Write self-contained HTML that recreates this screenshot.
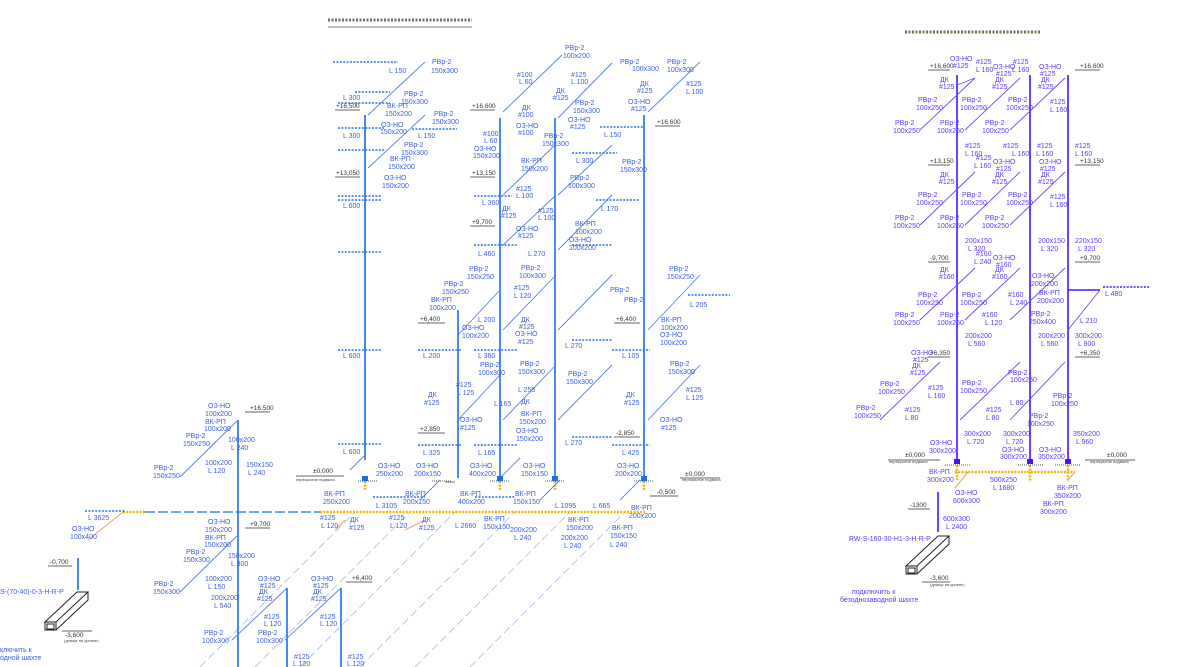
<!DOCTYPE html>
<html><head><meta charset="utf-8"><style>
html,body{margin:0;padding:0;background:#fff;}
svg{display:block;}
.t{font-family:"Liberation Sans",sans-serif;font-size:7px;fill:#3a5ee0;}
.r{font-family:"Liberation Sans",sans-serif;font-size:7px;fill:#5a3cff;}
.k{font-family:"Liberation Sans",sans-serif;font-size:6.5px;fill:#333;}
.s{font-family:"Liberation Sans",sans-serif;font-size:4px;fill:#444;}
</style></head><body>
<svg width="1184" height="667" viewBox="0 0 1184 667" xmlns="http://www.w3.org/2000/svg">
<!-- titles -->
<line x1="328" y1="20" x2="472" y2="20" stroke="#7a6a80" stroke-width="3" stroke-dasharray="2,1.5"/>
<line x1="328" y1="27" x2="472" y2="27" stroke="#555" stroke-width="0.8"/>
<line x1="905" y1="32" x2="1040" y2="32" stroke="#7a6a50" stroke-width="3" stroke-dasharray="2,1.5"/>

<!-- gray long dashed diagonals -->
<g stroke="#9ab0e0" stroke-width="0.7" stroke-dasharray="8,4" fill="none">
<line x1="200" y1="667" x2="355" y2="512"/>
<line x1="255" y1="667" x2="410" y2="512"/>
<line x1="300" y1="667" x2="455" y2="512"/>
<line x1="360" y1="667" x2="515" y2="512"/>
<line x1="415" y1="667" x2="570" y2="512"/>
<line x1="470" y1="667" x2="625" y2="512"/>
</g>

<!-- LEFT main blue verticals -->
<g stroke="#1a6fe6" stroke-width="1.6" fill="none">
<line x1="365" y1="115" x2="365" y2="460"/>
<line x1="500" y1="118" x2="500" y2="478"/>
<line x1="555" y1="118" x2="555" y2="478"/>
<line x1="644" y1="115" x2="644" y2="478"/>
<line x1="238" y1="420" x2="238" y2="667"/>
<line x1="287" y1="588" x2="287" y2="667"/>
<line x1="341" y1="588" x2="341" y2="667"/>
<line x1="458" y1="310" x2="458" y2="478"/>
<line x1="78" y1="558" x2="78" y2="590"/>
</g>
<g stroke="#1a6fe6" stroke-width="1.3" fill="none" stroke-dasharray="10,3">
<line x1="145" y1="512" x2="320" y2="512"/>
</g>
<!-- orange dotted -->
<g stroke="#f2b400" stroke-width="2.5" stroke-dasharray="2,1.3" fill="none">
<line x1="320" y1="512" x2="645" y2="512"/>
<line x1="123" y1="512" x2="145" y2="512"/>
<line x1="365" y1="478" x2="365" y2="490"/>
<line x1="500" y1="478" x2="500" y2="490"/>
<line x1="555" y1="478" x2="555" y2="490"/>
<line x1="644" y1="478" x2="644" y2="490"/>
<line x1="955" y1="472" x2="1075" y2="472"/>
<line x1="957" y1="462" x2="957" y2="480"/>
<line x1="1030" y1="462" x2="1030" y2="482"/>
<line x1="1068" y1="462" x2="1068" y2="482"/>
</g>
<g stroke="#f0a060" stroke-width="1" fill="none">
<line x1="123" y1="512" x2="88" y2="540"/>
<line x1="345" y1="520" x2="335" y2="530"/>
<line x1="425" y1="520" x2="405" y2="530"/>
<line x1="968" y1="472" x2="955" y2="488"/>
<line x1="1075" y1="472" x2="1068" y2="480"/>
</g>

<!-- blue diagonals (45deg) left -->
<g stroke="#5080f0" stroke-width="0.9" fill="none">
<line x1="368" y1="115" x2="425" y2="62"/>
<line x1="368" y1="168" x2="425" y2="115"/>
<line x1="503" y1="112" x2="562" y2="55"/>
<line x1="558" y1="118" x2="612" y2="63"/>
<line x1="648" y1="112" x2="700" y2="62"/>
<line x1="503" y1="195" x2="555" y2="145"/>
<line x1="558" y1="195" x2="612" y2="145"/>
<line x1="503" y1="245" x2="556" y2="195"/>
<line x1="558" y1="250" x2="612" y2="195"/>
<line x1="458" y1="335" x2="500" y2="290"/>
<line x1="503" y1="330" x2="556" y2="275"/>
<line x1="558" y1="330" x2="612" y2="275"/>
<line x1="648" y1="330" x2="700" y2="275"/>
<line x1="458" y1="420" x2="500" y2="375"/>
<line x1="503" y1="420" x2="556" y2="365"/>
<line x1="558" y1="420" x2="612" y2="365"/>
<line x1="648" y1="420" x2="700" y2="365"/>
<line x1="180" y1="477" x2="238" y2="420"/>
<line x1="180" y1="592" x2="238" y2="535"/>
<line x1="232" y1="640" x2="287" y2="588"/>
<line x1="285" y1="640" x2="341" y2="588"/>
<line x1="238" y1="300" x2="238" y2="300"/>
<line x1="350" y1="470" x2="365" y2="455"/>
<line x1="420" y1="500" x2="440" y2="480"/>
<line x1="500" y1="478" x2="520" y2="458"/>
<line x1="540" y1="500" x2="560" y2="480"/>
<line x1="620" y1="500" x2="640" y2="480"/>
</g>
<!-- dotted horizontals left -->
<g stroke="#2a70e8" stroke-width="1.6" stroke-dasharray="2,1.4" fill="none">
<line x1="333" y1="62" x2="398" y2="62"/>
<line x1="355" y1="92" x2="390" y2="92"/>
<line x1="338" y1="103" x2="390" y2="103"/>
<line x1="338" y1="128" x2="384" y2="128"/>
<line x1="338" y1="150" x2="385" y2="150"/>
<line x1="412" y1="129" x2="457" y2="129"/>
<line x1="338" y1="196" x2="382" y2="196"/>
<line x1="338" y1="200" x2="382" y2="200"/>
<line x1="338" y1="252" x2="382" y2="252"/>
<line x1="338" y1="350" x2="382" y2="350"/>
<line x1="338" y1="444" x2="382" y2="444"/>
<line x1="474" y1="196" x2="512" y2="196"/>
<line x1="474" y1="245" x2="518" y2="245"/>
<line x1="572" y1="245" x2="612" y2="245"/>
<line x1="600" y1="127" x2="643" y2="127"/>
<line x1="572" y1="153" x2="617" y2="153"/>
<line x1="596" y1="200" x2="640" y2="200"/>
<line x1="474" y1="350" x2="518" y2="350"/>
<line x1="418" y1="350" x2="462" y2="350"/>
<line x1="418" y1="445" x2="462" y2="445"/>
<line x1="474" y1="445" x2="518" y2="445"/>
<line x1="572" y1="340" x2="612" y2="340"/>
<line x1="572" y1="437" x2="612" y2="437"/>
<line x1="612" y1="350" x2="650" y2="350"/>
<line x1="612" y1="445" x2="650" y2="445"/>
<line x1="688" y1="295" x2="730" y2="295"/>
<line x1="85" y1="511" x2="125" y2="511"/>
<line x1="373" y1="497" x2="425" y2="497"/>
<line x1="475" y1="497" x2="515" y2="497"/>
</g>
<!-- RIGHT verticals -->
<g stroke="#4a10ff" stroke-width="1.6" fill="none">
<line x1="957" y1="75" x2="957" y2="462"/>
<line x1="1030" y1="75" x2="1030" y2="462"/>
<line x1="1068" y1="75" x2="1068" y2="462"/>
<line x1="938" y1="492" x2="938" y2="532"/>
<line x1="1068" y1="290" x2="1100" y2="290"/>
</g>
<g stroke="#6a4aff" stroke-width="0.9" fill="none">
<line x1="920" y1="130" x2="975" y2="78"/>
<line x1="965" y1="130" x2="1020" y2="78"/>
<line x1="1010" y1="130" x2="1065" y2="78"/>
<line x1="920" y1="225" x2="975" y2="172"/>
<line x1="965" y1="225" x2="1020" y2="172"/>
<line x1="1010" y1="225" x2="1065" y2="172"/>
<line x1="920" y1="320" x2="975" y2="268"/>
<line x1="965" y1="320" x2="1020" y2="268"/>
<line x1="1010" y1="320" x2="1065" y2="268"/>
<line x1="880" y1="420" x2="940" y2="362"/>
<line x1="960" y1="420" x2="1020" y2="362"/>
<line x1="1010" y1="420" x2="1065" y2="362"/>
<line x1="1068" y1="330" x2="1100" y2="290"/>
<line x1="957" y1="85" x2="975" y2="78"/>
<line x1="1030" y1="78" x2="1030" y2="78"/>
</g>
<g stroke="#4a10ff" stroke-width="1.6" stroke-dasharray="2,1.4" fill="none">
<line x1="1103" y1="287" x2="1150" y2="287"/>
</g>

<!-- level marks (black) -->
<g stroke="#333" stroke-width="0.7" fill="none">
<line x1="335" y1="110" x2="360" y2="110"/><line x1="335" y1="177" x2="360" y2="177"/>
<line x1="470" y1="110" x2="495" y2="110"/><line x1="470" y1="177" x2="495" y2="177"/>
<line x1="470" y1="226" x2="495" y2="226"/><line x1="418" y1="323" x2="445" y2="323"/>
<line x1="418" y1="433" x2="445" y2="433"/><line x1="655" y1="126" x2="680" y2="126"/>
<line x1="614" y1="323" x2="640" y2="323"/><line x1="614" y1="437" x2="640" y2="437"/>
<line x1="245" y1="412" x2="270" y2="412"/><line x1="245" y1="528" x2="270" y2="528"/>
<line x1="346" y1="582" x2="372" y2="582"/><line x1="48" y1="566" x2="72" y2="566"/>
<line x1="62" y1="631" x2="92" y2="631"/><line x1="296" y1="476" x2="344" y2="476"/>
<line x1="680" y1="478" x2="720" y2="478"/><line x1="650" y1="496" x2="678" y2="496"/>
<line x1="928" y1="70" x2="950" y2="70"/><line x1="1075" y1="70" x2="1100" y2="70"/>
<line x1="928" y1="165" x2="950" y2="165"/><line x1="1075" y1="165" x2="1100" y2="165"/>
<line x1="928" y1="262" x2="950" y2="262"/><line x1="1075" y1="262" x2="1100" y2="262"/>
<line x1="928" y1="357" x2="950" y2="357"/><line x1="1075" y1="357" x2="1100" y2="357"/>
<line x1="888" y1="460" x2="940" y2="460"/><line x1="1085" y1="460" x2="1135" y2="460"/>
<line x1="908" y1="509" x2="930" y2="509"/><line x1="922" y1="582" x2="950" y2="582"/>
<line x1="445" y1="482" x2="455" y2="482"/>
</g>
<!-- gray hatch floor -->
<g stroke="#777" stroke-width="1.2" stroke-dasharray="1,1">
<line x1="358" y1="481" x2="378" y2="481"/><line x1="432" y1="481" x2="452" y2="481"/>
<line x1="490" y1="481" x2="510" y2="481"/><line x1="545" y1="481" x2="565" y2="481"/>
<line x1="634" y1="481" x2="654" y2="481"/>
<line x1="945" y1="465" x2="970" y2="465"/><line x1="1018" y1="465" x2="1043" y2="465"/>
<line x1="1055" y1="465" x2="1080" y2="465"/>
</g>
<!-- duct boxes -->
<g stroke="#222" stroke-width="1" fill="none">
<path d="M45 622 L77 592 L88 592 L56 622 Z M45 622 L45 630 L56 630 L56 622 M56 630 L88 600 L88 592"/>
<rect x="47" y="624" width="7" height="5"/>
<path d="M906 566 L938 536 L949 536 L917 566 Z M906 566 L906 574 L917 574 L917 566 M917 574 L949 544 L949 536"/>
<rect x="908" y="568" width="7" height="5"/>
</g>
<g fill="#1a6fe6"><rect x="362" y="476" width="6" height="5"/><rect x="497" y="476" width="6" height="5"/><rect x="552" y="476" width="6" height="5"/><rect x="641" y="476" width="6" height="5"/></g>
<g fill="#4a10ff"><rect x="954" y="459" width="6" height="5"/><rect x="1027" y="459" width="6" height="5"/><rect x="1065" y="459" width="6" height="5"/></g>

<!-- LEFT labels -->
<g class="t">
<text x="432" y="64">РВр-2</text><text x="431" y="73">150х300</text>
<text x="389" y="73">L 150</text>
<text x="404" y="96">РВр-2</text><text x="401" y="104">150х300</text>
<text x="387" y="108">ВК-РП</text><text x="385" y="116">150х200</text>
<text x="381" y="127">ОЗ-НО</text><text x="380" y="134">150х200</text>
<text x="434" y="116">РВр-2</text><text x="432" y="124">150х300</text>
<text x="418" y="138">L 150</text><text x="343" y="100">L 300</text><text x="343" y="138">L 300</text>
<text x="404" y="147">РВр-2</text><text x="401" y="155">150х300</text>
<text x="390" y="161">ВК-РП</text><text x="388" y="169">150х200</text>
<text x="384" y="180">ОЗ-НО</text><text x="382" y="188">150х200</text>
<text x="343" y="208">L 600</text><text x="343" y="358">L 600</text><text x="343" y="454">L 600</text>
<text x="565" y="50">РВр-2</text><text x="563" y="58">100х200</text>
<text x="517" y="77">#100</text><text x="519" y="84">L 60</text>
<text x="522" y="110">ДК</text><text x="518" y="117">#100</text>
<text x="516" y="128">ОЗ-НО</text><text x="518" y="135">#100</text>
<text x="483" y="136">#100</text><text x="484" y="143">L 60</text>
<text x="474" y="151">ОЗ-НО</text><text x="473" y="158">150х200</text>
<text x="521" y="163">ВК-РП</text><text x="521" y="171">150х200</text>
<text x="571" y="77">#125</text><text x="571" y="84">L 100</text>
<text x="556" y="93">ДК</text><text x="553" y="100">#125</text>
<text x="575" y="105">РВр-2</text><text x="573" y="113">150х300</text>
<text x="568" y="122">ОЗ-НО</text><text x="570" y="129">#125</text>
<text x="544" y="138">РВр-2</text><text x="542" y="146">150х300</text>
<text x="604" y="137">L 150</text><text x="576" y="163">L 300</text>
<text x="570" y="180">РВр-2</text><text x="568" y="188">100х300</text>
<text x="622" y="164">РВр-2</text><text x="620" y="172">150х300</text>
<text x="601" y="211">L 170</text><text x="620" y="64">РВр-2</text><text x="667" y="64">РВр-2</text><text x="667" y="72">100х300</text>
<text x="632" y="71">100х300</text>
<text x="640" y="86">ДК</text><text x="637" y="93">#125</text>
<text x="628" y="104">ОЗ-НО</text><text x="631" y="111">#125</text>
<text x="686" y="86">#125</text><text x="686" y="94">L 100</text>
<text x="516" y="191">#125</text><text x="516" y="198">L 100</text>
<text x="538" y="213">#125</text><text x="538" y="220">L 100</text>
<text x="502" y="211">ДК</text><text x="501" y="218">#125</text>
<text x="516" y="231">ОЗ-НО</text><text x="518" y="238">#125</text>
<text x="575" y="226">ВК-РП</text><text x="575" y="234">100х200</text>
<text x="569" y="242">ОЗ-НО</text><text x="569" y="250">100х200</text>
<text x="478" y="256">L 460</text><text x="528" y="256">L 270</text><text x="482" y="205">L 360</text>
<text x="469" y="271">РВр-2</text><text x="467" y="279">150х250</text>
<text x="521" y="270">РВр-2</text><text x="519" y="278">100х300</text>
<text x="444" y="286">РВр-2</text><text x="442" y="294">150х250</text>
<text x="431" y="302">ВК-РП</text><text x="429" y="310">100х200</text>
<text x="514" y="290">#125</text><text x="514" y="298">L 120</text>
<text x="669" y="271">РВр-2</text><text x="667" y="279">150х250</text>
<text x="624" y="302">РВр-2</text><text x="610" y="292">РВр-2</text>
<text x="661" y="322">ВК-РП</text><text x="661" y="330">100х200</text>
<text x="660" y="337">ОЗ-НО</text><text x="660" y="345">100х200</text>
<text x="690" y="307">L 205</text>
<text x="478" y="322">L 200</text><text x="521" y="322">ДК</text><text x="519" y="329">#125</text>
<text x="515" y="336">ОЗ-НО</text><text x="518" y="344">#125</text>
<text x="462" y="330">ОЗ-НО</text><text x="462" y="338">100х200</text>
<text x="423" y="358">L 200</text><text x="478" y="358">L 360</text><text x="565" y="348">L 270</text>
<text x="622" y="358">L 105</text><text x="480" y="367">РВр-2</text><text x="478" y="375">100х300</text>
<text x="520" y="366">РВр-2</text><text x="518" y="374">150х300</text>
<text x="568" y="376">РВр-2</text><text x="566" y="384">150х300</text>
<text x="670" y="366">РВр-2</text><text x="668" y="374">150х300</text>
<text x="456" y="387">#125</text><text x="457" y="395">L 125</text>
<text x="428" y="397">ДК</text><text x="424" y="405">#125</text>
<text x="518" y="392">L 255</text><text x="686" y="392">#125</text><text x="686" y="400">L 125</text>
<text x="626" y="397">ДК</text><text x="624" y="405">#125</text>
<text x="494" y="406">L 165</text><text x="521" y="404">ДК</text>
<text x="521" y="416">ВК-РП</text><text x="519" y="424">150х200</text>
<text x="516" y="433">ОЗ-НО</text><text x="516" y="441">150х200</text>
<text x="460" y="422">ОЗ-НО</text><text x="460" y="430">#125</text>
<text x="660" y="422">ОЗ-НО</text><text x="661" y="430">#125</text>
<text x="565" y="445">L 270</text><text x="423" y="455">L 325</text><text x="478" y="455">L 165</text><text x="622" y="455">L 425</text>
<text x="378" y="468">ОЗ-НО</text><text x="376" y="476">250х200</text>
<text x="416" y="468">ОЗ-НО</text><text x="414" y="476">200х150</text>
<text x="470" y="468">ОЗ-НО</text><text x="469" y="476">400х200</text>
<text x="523" y="468">ОЗ-НО</text><text x="521" y="476">150х150</text>
<text x="617" y="468">ОЗ-НО</text><text x="615" y="476">200х200</text>
<text x="324" y="496">ВК-РП</text><text x="323" y="504">250х200</text>
<text x="405" y="496">ВК-РП</text><text x="403" y="504">200х150</text>
<text x="460" y="496">ВК-РП</text><text x="458" y="504">400х200</text>
<text x="515" y="496">ВК-РП</text><text x="513" y="504">150х150</text>
<text x="631" y="510">ВК-РП</text><text x="629" y="518">200х200</text>
<text x="376" y="508">L 3105</text><text x="555" y="508">L 1095</text><text x="593" y="508">L 665</text>
<text x="320" y="520">#125</text><text x="321" y="528">L 120</text><text x="350" y="522">ДК</text><text x="349" y="530">#125</text>
<text x="389" y="520">#125</text><text x="390" y="528">L 120</text><text x="422" y="522">ДК</text><text x="419" y="530">#125</text>
<text x="455" y="528">L 2660</text><text x="484" y="521">ВК-РП</text><text x="483" y="529">150х150</text>
<text x="510" y="532">200х200</text><text x="514" y="540">L 240</text>
<text x="568" y="522">ВК-РП</text><text x="566" y="530">150х200</text>
<text x="561" y="540">200х200</text><text x="564" y="548">L 240</text>
<text x="612" y="530">ВК-РП</text><text x="610" y="538">150х150</text>
<text x="610" y="547">L 240</text><text x="613" y="540"></text>
<text x="208" y="408">ОЗ-НО</text><text x="205" y="416">100х200</text>
<text x="205" y="424">ВК-РП</text><text x="204" y="431">100х200</text>
<text x="186" y="438">РВр-2</text><text x="183" y="446">150х250</text>
<text x="228" y="442">100х200</text><text x="231" y="450">L 240</text>
<text x="205" y="465">100х200</text><text x="208" y="473">L 120</text>
<text x="154" y="470">РВр-2</text><text x="153" y="478">150х250</text>
<text x="246" y="467">150х150</text><text x="248" y="475">L 240</text>
<text x="88" y="520">L 3625</text>
<text x="72" y="531">ОЗ-НО</text><text x="70" y="539">100х400</text>
<text x="208" y="524">ОЗ-НО</text><text x="205" y="532">150х200</text>
<text x="205" y="540">ВК-РП</text><text x="204" y="547">150х200</text>
<text x="186" y="554">РВр-2</text><text x="183" y="562">150х300</text>
<text x="228" y="558">150х200</text><text x="231" y="566">L 300</text>
<text x="205" y="581">100х200</text><text x="208" y="589">L 150</text>
<text x="154" y="586">РВр-2</text><text x="153" y="594">150х300</text>
<text x="211" y="600">200х200</text><text x="214" y="608">L 540</text>
<text x="258" y="581">ОЗ-НО</text><text x="260" y="588">#125</text>
<text x="259" y="594">ДК</text><text x="257" y="601">#125</text>
<text x="311" y="581">ОЗ-НО</text><text x="313" y="588">#125</text>
<text x="313" y="594">ДК</text><text x="311" y="601">#125</text>
<text x="264" y="619">#125</text><text x="264" y="626">L 120</text>
<text x="320" y="619">#125</text><text x="320" y="626">L 120</text>
<text x="204" y="635">РВр-2</text><text x="202" y="643">100х300</text>
<text x="258" y="635">РВр-2</text><text x="256" y="643">100х300</text>
<text x="294" y="659">#125</text><text x="293" y="666">L 120</text>
<text x="348" y="659">#125</text><text x="347" y="666">L 120</text>
<text x="0" y="594">S-(70-40)-0-3-Н-R-P</text>
<text x="0" y="652">ключить к</text><text x="0" y="660">одной шахте</text>
</g>
<g class="k">
<text x="336" y="108">+16,500</text><text x="336" y="175">+13,050</text>
<text x="472" y="108">+16,600</text><text x="472" y="175">+13,150</text><text x="472" y="224">+9,700</text>
<text x="420" y="321">+6,400</text><text x="420" y="431">+2,850</text>
<text x="657" y="124">+16,600</text><text x="616" y="321">+6,400</text><text x="616" y="435">-2,850</text>
<text x="250" y="410">+16,500</text><text x="250" y="526">+9,700</text><text x="352" y="580">+6,400</text>
<text x="50" y="564">-0,700</text><text x="65" y="637">-3,600</text>
<text x="313" y="473">±0,000</text><text x="685" y="476">±0,000</text><text x="657" y="494">-0,500</text>
<text x="930" y="68">+16,600</text><text x="1080" y="68">+16,600</text>
<text x="930" y="163">+13,150</text><text x="1080" y="163">+13,150</text>
<text x="930" y="260">-9,700</text><text x="1080" y="260">+9,700</text>
<text x="930" y="355">+6,350</text><text x="1080" y="355">+6,350</text>
<text x="905" y="457">±0,000</text><text x="1107" y="457">±0,000</text>
<text x="910" y="507">-1300</text><text x="930" y="580">-3,600</text>
</g>
<g class="s">
<text x="296" y="481">перекрытие подвала</text><text x="682" y="481">перекрытие подвала</text>
<text x="889" y="463">перекрытие подвала</text><text x="1090" y="463">перекрытие подвала</text>
<text x="64" y="642">(днище на уровне)</text><text x="930" y="586">(днище на уровне)</text>
</g>

<!-- RIGHT labels -->
<g class="r">
<text x="950" y="61">ОЗ-НО</text><text x="953" y="68">#125</text>
<text x="976" y="64">#125</text><text x="976" y="72">L 160</text>
<text x="993" y="69">ОЗ-НО</text><text x="996" y="76">#125</text>
<text x="1013" y="64">#125</text><text x="1012" y="72">L 160</text>
<text x="1039" y="69">ОЗ-НО</text><text x="1040" y="76">#125</text>
<text x="940" y="82">ДК</text><text x="939" y="89">#125</text>
<text x="995" y="82">ДК</text><text x="992" y="89">#125</text>
<text x="1041" y="82">ДК</text><text x="1038" y="89">#125</text>
<text x="1050" y="104">#125</text><text x="1050" y="112">L 160</text>
<text x="918" y="102">РВр-2</text><text x="916" y="110">100х250</text>
<text x="962" y="102">РВр-2</text><text x="960" y="110">100х250</text>
<text x="1008" y="102">РВр-2</text><text x="1006" y="110">100х250</text>
<text x="895" y="125">РВр-2</text><text x="893" y="133">100х250</text>
<text x="940" y="125">РВр-2</text><text x="937" y="133">100х250</text>
<text x="985" y="125">РВр-2</text><text x="982" y="133">100х250</text>
<text x="965" y="148">#125</text><text x="965" y="156">L 160</text>
<text x="1003" y="148">#125</text><text x="1012" y="156">L 160</text>
<text x="1037" y="148">#125</text><text x="1036" y="156">L 160</text>
<text x="1075" y="148">#125</text><text x="1075" y="156">L 160</text>
<text x="976" y="160">#125</text><text x="974" y="168">L 160</text>
<text x="993" y="164">ОЗ-НО</text><text x="996" y="171">#125</text>
<text x="1039" y="164">ОЗ-НО</text><text x="1040" y="171">#125</text>
<text x="940" y="177">ДК</text><text x="939" y="184">#125</text>
<text x="995" y="177">ДК</text><text x="992" y="184">#125</text>
<text x="1041" y="177">ДК</text><text x="1038" y="184">#125</text>
<text x="1050" y="199">#125</text><text x="1050" y="207">L 160</text>
<text x="918" y="197">РВр-2</text><text x="916" y="205">100х250</text>
<text x="962" y="197">РВр-2</text><text x="960" y="205">100х250</text>
<text x="1008" y="197">РВр-2</text><text x="1006" y="205">100х250</text>
<text x="895" y="220">РВр-2</text><text x="893" y="228">100х250</text>
<text x="940" y="220">РВр-2</text><text x="937" y="228">100х250</text>
<text x="985" y="220">РВр-2</text><text x="982" y="228">100х250</text>
<text x="965" y="243">200х150</text><text x="968" y="251">L 320</text>
<text x="1038" y="243">200х150</text><text x="1041" y="251">L 320</text>
<text x="1075" y="243">220х150</text><text x="1078" y="251">L 320</text>
<text x="976" y="256">#160</text><text x="974" y="264">L 240</text>
<text x="993" y="260">ОЗ-НО</text><text x="996" y="267">#160</text>
<text x="1032" y="278">ОЗ-НО</text><text x="1031" y="286">200х200</text>
<text x="940" y="272">ДК</text><text x="939" y="279">#160</text>
<text x="995" y="272">ДК</text><text x="992" y="279">#160</text>
<text x="1039" y="295">ВК-РП</text><text x="1037" y="303">200х200</text>
<text x="1105" y="296">L 480</text>
<text x="918" y="297">РВр-2</text><text x="916" y="305">100х250</text>
<text x="962" y="297">РВр-2</text><text x="960" y="305">100х250</text>
<text x="1008" y="297">#160</text><text x="1010" y="305">L 240</text>
<text x="895" y="317">РВр-2</text><text x="893" y="325">100х250</text>
<text x="940" y="317">РВр-2</text><text x="937" y="325">100х250</text>
<text x="982" y="317">#160</text><text x="985" y="325">L 120</text>
<text x="1031" y="316">РВр-2</text><text x="1029" y="324">250х400</text>
<text x="1080" y="323">L 210</text>
<text x="965" y="338">200х200</text><text x="968" y="346">L 560</text>
<text x="1038" y="338">200х200</text><text x="1041" y="346">L 560</text>
<text x="1075" y="338">300х200</text><text x="1078" y="346">L 800</text>
<text x="911" y="355">ОЗ-НО</text><text x="913" y="362">#125</text>
<text x="912" y="368">ДК</text><text x="910" y="375">#125</text>
<text x="880" y="386">РВр-2</text><text x="878" y="394">100х250</text>
<text x="928" y="390">#125</text><text x="928" y="398">L 160</text>
<text x="856" y="410">РВр-2</text><text x="854" y="418">100х250</text>
<text x="905" y="412">#125</text><text x="905" y="420">L 80</text>
<text x="962" y="385">РВр-2</text><text x="960" y="393">100х250</text>
<text x="986" y="412">#125</text><text x="986" y="420">L 80</text>
<text x="1008" y="375">РВр-2</text><text x="1010" y="382">100х250</text>
<text x="1010" y="405">L 80</text><text x="1029" y="418">РВр-2</text><text x="1027" y="426">100х250</text>
<text x="1053" y="398">РВр-2</text><text x="1051" y="406">100х250</text>
<text x="964" y="436">300х200</text><text x="967" y="444">L 720</text>
<text x="1003" y="436">300х200</text><text x="1006" y="444">L 720</text>
<text x="1073" y="436">350х200</text><text x="1076" y="444">L 960</text>
<text x="930" y="445">ОЗ-НО</text><text x="929" y="453">300х200</text>
<text x="1002" y="452">ОЗ-НО</text><text x="1000" y="459">300х200</text>
<text x="1039" y="452">ОЗ-НО</text><text x="1038" y="459">350х200</text>
<text x="929" y="474">ВК-РП</text><text x="927" y="482">300х200</text>
<text x="990" y="482">500х250</text><text x="993" y="490">L 1680</text>
<text x="1057" y="490">ВК-РП</text><text x="1054" y="498">350х200</text>
<text x="1043" y="506">ВК-РП</text><text x="1040" y="514">300х200</text>
<text x="955" y="495">ОЗ-НО</text><text x="953" y="503">600х300</text>
<text x="943" y="521">600х300</text><text x="946" y="529">L 2400</text>
<text x="849" y="541">RW-S-160-30-Н1-3-Н-R-P</text>
<text x="852" y="594">подключить к</text><text x="840" y="602">безоднозаводной шахте</text>
</g>
</svg>
</body></html>
